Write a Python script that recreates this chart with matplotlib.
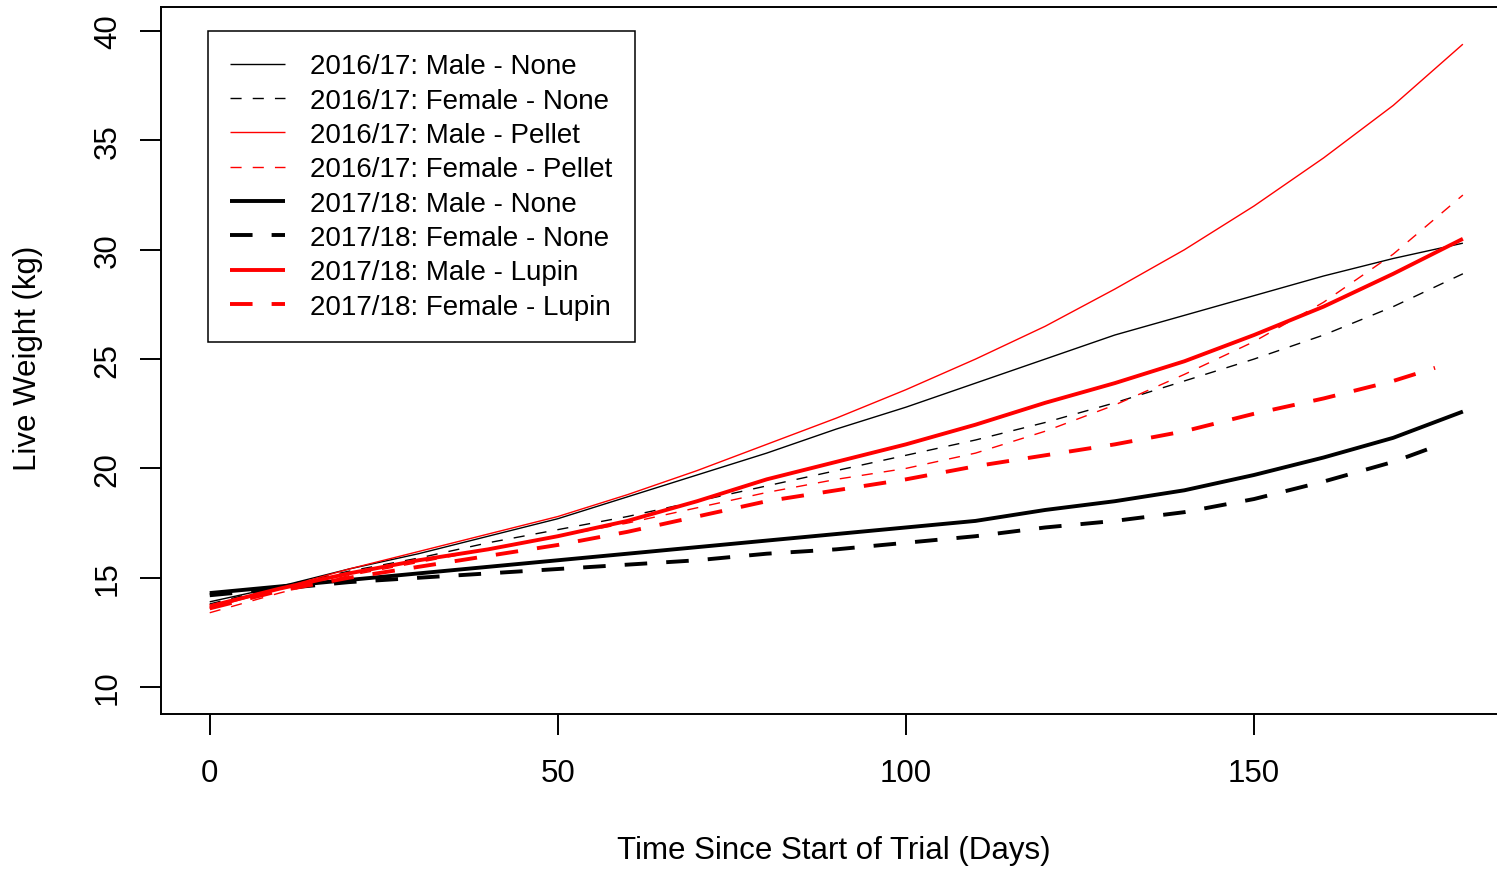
import matplotlib
matplotlib.use("Agg")
import matplotlib.pyplot as plt

plt.rcParams['font.family'] = ['Liberation Sans', 'DejaVu Sans']

# ---- data ----
days_full = [0, 10, 20, 30, 40, 50, 60, 70, 80, 90, 100, 110, 120, 130, 140, 150, 160, 170, 180]
days_short = [0, 10, 20, 30, 40, 50, 60, 70, 80, 90, 100, 110, 120, 130, 140, 150, 160, 170, 176]

male_none_1617 = [13.9, 14.6, 15.4, 16.1, 16.9, 17.7, 18.7, 19.7, 20.7, 21.8, 22.8, 23.9, 25.0, 26.1, 27.0, 27.9, 28.8, 29.6, 30.3]
female_none_1617 = [13.8, 14.6, 15.3, 15.9, 16.6, 17.2, 17.8, 18.5, 19.2, 19.9, 20.6, 21.3, 22.1, 23.0, 24.0, 25.0, 26.1, 27.4, 28.9]
male_pellet_1617 = [13.6, 14.5, 15.4, 16.2, 17.0, 17.8, 18.8, 19.9, 21.1, 22.3, 23.6, 25.0, 26.5, 28.2, 30.0, 32.0, 34.2, 36.6, 39.4]
female_pellet_1617 = [13.4, 14.3, 15.1, 15.7, 16.3, 16.9, 17.5, 18.2, 18.9, 19.5, 20.0, 20.7, 21.7, 22.9, 24.3, 25.8, 27.6, 29.8, 32.5]
male_none_1718 = [14.3, 14.6, 14.9, 15.2, 15.5, 15.8, 16.1, 16.4, 16.7, 17.0, 17.3, 17.6, 18.1, 18.5, 19.0, 19.7, 20.5, 21.4, 22.6]
female_none_1718 = [14.2, 14.5, 14.8, 15.0, 15.2, 15.4, 15.6, 15.8, 16.1, 16.3, 16.6, 16.9, 17.3, 17.6, 18.0, 18.6, 19.4, 20.3, 21.0]
male_lupin_1718 = [13.7, 14.5, 15.2, 15.8, 16.3, 16.9, 17.6, 18.5, 19.5, 20.3, 21.1, 22.0, 23.0, 23.9, 24.9, 26.1, 27.4, 28.9, 30.5]
female_lupin_1718 = [13.6, 14.4, 15.0, 15.5, 16.0, 16.5, 17.1, 17.8, 18.5, 19.0, 19.5, 20.1, 20.6, 21.1, 21.7, 22.5, 23.2, 24.0, 24.6]

labels = ["2016/17: Male - None", "2016/17: Female - None",
          "2016/17: Male - Pellet", "2016/17: Female - Pellet",
          "2017/18: Male - None", "2017/18: Female - None",
          "2017/18: Male - Lupin", "2017/18: Female - Lupin"]

x_ticks = [0, 50, 100, 150]
y_ticks = [10, 15, 20, 25, 30, 35, 40]

# ---- styles ----
RED = "#FF0000"
BLK = "#000000"
THIN = 1.0
THICK = 2.8
thin_dash = (0, (8, 8))
thick_dash = (0, (5.8, 4.9))

series = [
    (days_full, male_none_1617, BLK, THIN, "-"),
    (days_full, female_none_1617, BLK, THIN, thin_dash),
    (days_full, male_pellet_1617, RED, THIN, "-"),
    (days_full, female_pellet_1617, RED, THIN, thin_dash),
    (days_full, male_none_1718, BLK, THICK, "-"),
    (days_short, female_none_1718, BLK, THICK, thick_dash),
    (days_full, male_lupin_1718, RED, THICK, "-"),
    (days_short, female_lupin_1718, RED, THICK, thick_dash),
]

W, H = 1497, 870
fig = plt.figure(figsize=(W / 100, H / 100), dpi=100)
left_px, right_px, top_px, bottom_px = 161, 1513, 8, 715
ax = fig.add_axes([left_px / W, 1 - bottom_px / H, (right_px - left_px) / W, (bottom_px - top_px) / H])

handles = []
for (xs, ys, c, lw, ls), lab in zip(series, labels):
    ln, = ax.plot(xs, ys, color=c, lw=lw, linestyle=ls, label=lab,
                  solid_capstyle='butt', dash_capstyle='butt')
    handles.append(ln)

ax.set_xlim(-7.0, 187.2)
ax.set_ylim(8.77, 41.1)
ax.set_xticks(x_ticks)
ax.set_yticks(y_ticks)
ax.set_xticklabels([str(v) for v in x_ticks])
ax.set_yticklabels([str(v) for v in y_ticks])

for sp in ax.spines.values():
    sp.set_linewidth(1.4)
    sp.set_color("black")

ax.tick_params(axis='both', direction='out', length=15, width=1.4, labelsize=22.5, colors='black')
ax.tick_params(axis='x', pad=17)
ax.tick_params(axis='y', pad=12.5, labelrotation=90)
for t in ax.get_yticklabels():
    t.set_va('center')

ax.set_xlabel("Time Since Start of Trial (Days)", fontsize=22.5)
ax.set_ylabel("Live Weight (kg)", fontsize=22.5)
ax.xaxis.set_label_coords(833.5 / W, 1 - 851 / H, transform=fig.transFigure)
ax.xaxis.label.set_va('center')
ax.yaxis.set_label_coords(28 / W, 1 - 358 / H, transform=fig.transFigure)
ax.yaxis.label.set_va('center')

leg = ax.legend(handles=handles, loc='upper left',
                bbox_to_anchor=(208 / W, 1 - 32 / H), bbox_transform=fig.transFigure,
                fontsize=20, frameon=True, fancybox=False, shadow=False, framealpha=1,
                borderaxespad=0, borderpad=0.8, labelspacing=0.3,
                handlelength=1.98, handletextpad=0.9)
leg.get_frame().set_edgecolor('black')
leg.get_frame().set_linewidth(1.1)

fig.savefig("out.png", dpi=100)
